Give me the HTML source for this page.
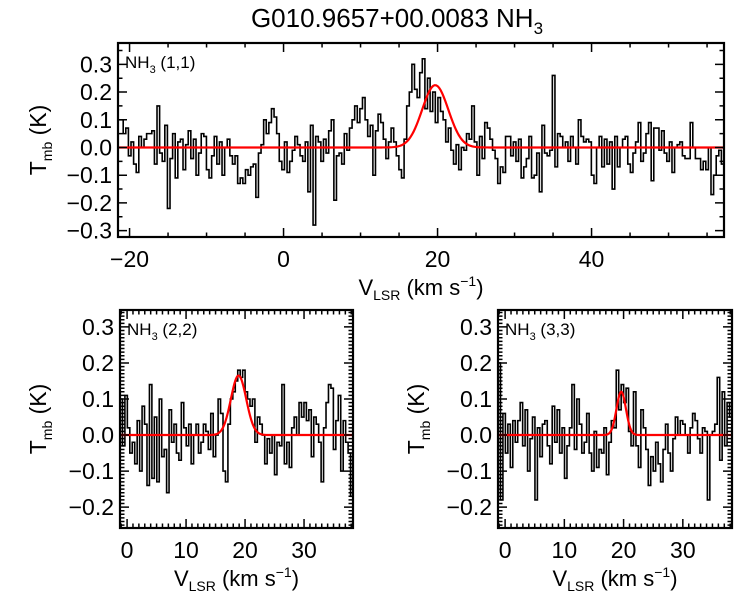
<!DOCTYPE html>
<html><head><meta charset="utf-8"><style>
body{margin:0;background:#fff;}
svg text{font-family:"Liberation Sans",sans-serif;fill:#000;}
</style></head><body>
<svg id="chart" width="750" height="600" viewBox="0 0 750 600" xmlns="http://www.w3.org/2000/svg">
<text x="397" y="27" font-size="26" text-anchor="middle">G010.9657+00.0083 NH<tspan font-size="17" dy="7">3</tspan></text>
</svg>
<script>
// NH3 (1,1) spectrum
const v11Start = -21.5, v11End = 57.2;
const t11 = [0.10,0.10,0.05,0.07,-0.03,0.02,-0.06,-0.09,0.04,0.00,0.03,0.05,0.05,0.06,-0.06,0.15,-0.02,-0.05,0.08,-0.22,-0.04,0.05,-0.11,0.02,0.03,-0.08,0.01,0.06,-0.04,0.03,-0.10,-0.02,0.05,0.04,-0.08,-0.11,-0.03,0.04,-0.06,0.02,-0.10,0.00,0.03,-0.03,-0.06,-0.03,-0.13,-0.11,-0.13,-0.08,-0.10,-0.07,-0.06,-0.18,-0.02,0.01,0.10,0.05,0.09,0.14,0.11,0.05,-0.05,-0.08,0.02,-0.09,-0.05,-0.01,0.04,0.01,-0.03,-0.05,0.02,-0.16,0.08,-0.28,0.04,0.02,-0.05,0.03,-0.02,0.06,0.10,-0.19,-0.03,-0.02,-0.06,0.05,-0.01,0.07,0.10,0.15,0.09,0.14,0.18,0.10,0.04,0.08,-0.10,0.06,0.12,0.09,0.03,-0.04,0.02,0.07,0.02,-0.03,-0.08,-0.11,0.03,0.15,0.20,0.30,0.21,0.18,0.27,0.32,0.14,0.25,0.13,0.20,0.09,0.18,0.13,0.10,0.02,0.07,-0.01,-0.06,0.01,-0.08,0.00,-0.01,0.05,0.03,0.15,0.02,-0.10,0.04,-0.04,0.09,0.07,0.03,-0.01,-0.04,-0.13,-0.07,-0.09,0.04,0.04,-0.03,0.02,-0.05,0.03,-0.11,-0.07,-0.04,0.04,-0.11,-0.10,-0.02,-0.16,0.08,-0.02,-0.03,-0.01,0.26,-0.07,0.05,0.04,0.00,0.02,-0.05,0.04,0.00,-0.06,0.10,0.04,0.02,0.03,0.02,-0.10,-0.13,0.00,0.04,-0.07,0.03,-0.06,0.02,-0.15,0.04,-0.07,0.00,0.03,0.04,-0.06,-0.09,-0.02,0.02,0.09,-0.05,-0.02,0.05,0.09,-0.12,0.07,0.07,-0.01,0.06,-0.02,-0.05,0.02,-0.09,0.00,0.01,0.02,-0.03,-0.04,-0.04,0.09,0.00,-0.04,-0.04,-0.08,-0.05,-0.08,0.00,-0.17,-0.10,-0.03,-0.01,-0.06];
const fit11 = [0.225, 19.7, 1.7]; // amp, center, sigma
// NH3 (2,2)
const v22Start = -1.2, v22End = 38.3;
const t22 = [0.10,-0.03,0.11,0.02,-0.05,-0.02,-0.08,0.04,-0.10,0.08,0.03,-0.14,0.14,-0.12,0.05,-0.13,0.10,-0.06,-0.04,-0.16,0.07,-0.02,0.03,-0.05,-0.07,0.09,0.02,-0.03,0.03,-0.08,0.00,0.03,-0.05,-0.02,0.03,0.01,-0.04,0.06,-0.06,0.00,0.10,0.06,-0.10,-0.13,0.03,0.10,0.12,0.15,0.18,0.16,0.18,0.12,0.10,0.08,0.10,-0.02,0.05,0.03,0.00,-0.08,-0.01,-0.05,0.00,-0.11,-0.02,-0.03,0.14,-0.08,-0.02,-0.09,0.02,0.05,0.00,0.09,0.05,0.09,0.04,0.07,-0.06,0.05,0.03,-0.02,-0.13,0.02,0.09,0.14,0.13,-0.04,0.04,0.11,-0.10,0.04,-0.02,-0.05,-0.17];
const fit22 = [0.165, 18.9, 1.3];
// NH3 (3,3)
const v33Start = -1.2, v33End = 38.3;
const t33 = [0.20,-0.18,0.06,-0.05,0.03,-0.09,0.04,-0.02,0.04,0.09,-0.03,0.07,-0.10,-0.01,0.05,-0.18,0.02,-0.06,0.03,0.04,-0.03,-0.08,0.08,-0.02,0.07,-0.05,0.02,-0.12,-0.03,0.02,0.14,-0.04,0.10,0.03,-0.05,-0.02,0.06,-0.05,-0.10,0.01,-0.09,-0.04,-0.05,0.02,-0.11,-0.02,0.04,0.02,0.18,0.07,0.14,0.09,0.13,0.01,-0.03,0.12,-0.03,-0.09,0.07,0.02,-0.04,-0.14,-0.06,-0.10,-0.02,-0.08,-0.13,-0.04,0.03,-0.05,-0.10,-0.01,0.05,0.00,0.04,0.03,0.00,-0.05,0.02,0.06,0.04,-0.01,-0.05,0.02,0.01,-0.18,0.00,0.01,0.03,0.16,-0.07,0.12,-0.03,0.09,0.05];
const fit33 = [0.12, 19.6, 0.8];

const svg = document.getElementById('chart');
const NS = 'http://www.w3.org/2000/svg';
function mk(tag, attrs){const e=document.createElementNS(NS,tag);for(const k in attrs)e.setAttribute(k,attrs[k]);svg.appendChild(e);return e;}

function panel(o){
  const xs = v => o.x0 + (v - o.xmin)/(o.xmax - o.xmin)*(o.x1 - o.x0);
  const ys = t => o.y1 - (t - o.ymin)/(o.ymax - o.ymin)*(o.y1 - o.y0);
  const n = o.data.length, dv = (o.vEnd - o.vStart)/n;
  let d = '';
  o.data.forEach((t,i)=>{
    const a = xs(o.vStart + i*dv), b = xs(o.vStart + (i+1)*dv), y = ys(t);
    d += (i===0 ? 'M'+a+','+y : 'L'+a+','+y) + 'L'+b+','+y;
  });
  const sp = mk('path',{d:d,fill:'none',stroke:'#000','stroke-width':1.6});
  
  
  let g = '';
  for(let k=0;k<=400;k++){
    const v = o.xmin + k*(o.xmax-o.xmin)/400;
    const t = o.fit[0]*Math.exp(-0.5*Math.pow((v-o.fit[1])/o.fit[2],2));
    g += (k===0?'M':'L') + xs(v) + ',' + ys(t);
  }
  const gf = mk('path',{d:g,fill:'none',stroke:'#f00','stroke-width':2.2});
  
  
  const fr = mk('rect',{x:o.x0,y:o.y0,width:o.x1-o.x0,height:o.y1-o.y0,fill:'none',stroke:'#000','stroke-width':2.2});
  
  
  let td = '';
  const eps = 1e-9;
  for(let v=Math.ceil(o.xmin/o.xminor)*o.xminor; v<=o.xmax+eps; v+=o.xminor){
    const major = Math.abs(v/o.xmajor - Math.round(v/o.xmajor))<1e-6;
    const L = major?9:4.5, x = xs(v);
    td += 'M'+x+','+o.y1+'v'+(-L)+'M'+x+','+o.y0+'v'+L;
    if(major){
      const lb = mk('text',{x:x,y:o.y1+30,'font-size':23,'text-anchor':'middle'});
      lb.textContent = (v<0?'\u2212':'') + Math.abs(Math.round(v));
      
      
    }
  }
  for(let t=Math.ceil(o.ymin/o.yminor-eps)*o.yminor; t<=o.ymax+eps; t+=o.yminor){
    const major = Math.abs(t/o.ymajor - Math.round(t/o.ymajor))<1e-6;
    const L = major?9:4.5, y = ys(t);
    td += 'M'+o.x0+','+y+'h'+L+'M'+o.x1+','+y+'h'+(-L);
    if(major){
      const val = Math.round(t/o.ymajor)*o.ymajor;
      const lb = mk('text',{x:o.x0-6,y:y+8,'font-size':23,'text-anchor':'end'});
      lb.textContent = (val<-eps?'\u2212':'') + Math.abs(val).toFixed(1);
      
      
    }
  }
  const tk = mk('path',{d:td,stroke:'#000','stroke-width':1.5,fill:'none'});
  
  
  const lab = mk('text',{x:o.x0+7,y:o.y0+25,'font-size':17});
  lab.innerHTML = 'NH<tspan font-size="11" dy="5">3</tspan><tspan dy="-5"> '+o.label+'</tspan>';
  
  
  const xt = mk('text',{x:(o.x0+o.x1)/2,y:o.y1+58,'font-size':22,'text-anchor':'middle'});
  xt.innerHTML = 'V<tspan font-size="14" dy="5">LSR</tspan><tspan dy="-5"> (km s</tspan><tspan font-size="14" dy="-9">\u22121</tspan><tspan dy="9">)</tspan>';
  
  
  const cy = (o.y0+o.y1)/2;
  const yt = mk('text',{x:0,y:0,'font-size':23,'text-anchor':'middle',transform:'translate('+o.ytx+','+cy+') rotate(-90)'});
  yt.innerHTML = 'T<tspan font-size="14" dy="6">mb</tspan><tspan dy="-6"> (K)</tspan>';
  
  
}

panel({name:'nh3-11',x0:118,x1:724,y0:43,y1:237,xmin:-21.5,xmax:57.2,ymin:-0.323,ymax:0.377,ytx:46,
  xmajor:20,xminor:5,ymajor:0.1,yminor:0.05,data:t11,vStart:v11Start,vEnd:v11End,fit:fit11,label:'(1,1)'});
panel({name:'nh3-22',x0:120,x1:353,y0:310,y1:528,xmin:-1.2,xmax:38.3,ymin:-0.258,ymax:0.347,ytx:46,
  xmajor:10,xminor:1,ymajor:0.1,yminor:0.01,data:t22,vStart:v22Start,vEnd:v22End,fit:fit22,label:'(2,2)'});
panel({name:'nh3-33',x0:498,x1:732,y0:310,y1:528,xmin:-1.2,xmax:38.3,ymin:-0.258,ymax:0.347,ytx:424,
  xmajor:10,xminor:1,ymajor:0.1,yminor:0.01,data:t33,vStart:v33Start,vEnd:v33End,fit:fit33,label:'(3,3)'});
</script>
</body></html>
